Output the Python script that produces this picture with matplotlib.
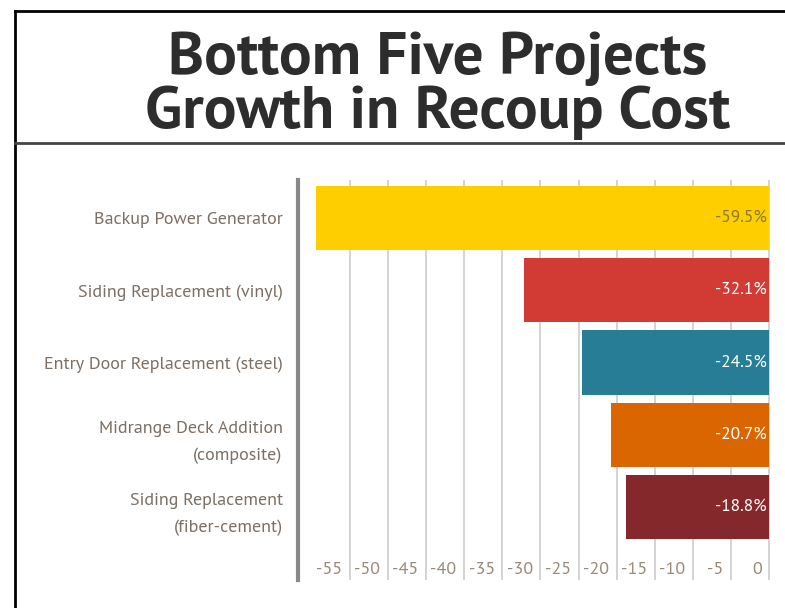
import matplotlib.pyplot as plt
from matplotlib.lines import Line2D

projects = ["Backup Power Generator", "Siding Replacement (vinyl)",
            "Entry Door Replacement (steel)", "Midrange Deck Addition\n(composite)",
            "Siding Replacement\n(fiber-cement)"]
growth = [-59.5, -32.1, -24.5, -20.7, -18.8]
bar_colors = ["#FFCE00", "#D13B33", "#277C96", "#D96600", "#84282C"]
label_colors = ["#8C7A2E", "white", "white", "white", "white"]
ticks = [-55, -50, -45, -40, -35, -30, -25, -20, -15, -10, -5, 0]

font = "PT Sans"

fig = plt.figure(figsize=(7.85, 6.08), dpi=100)
ax = fig.add_axes([298/785, 1-580/608, 472/785, 400/608])

y = list(range(len(projects)))
ax.barh(y, growth, height=0.89, color=bar_colors, zorder=2)
for yy, v, c in zip(y, growth, label_colors):
    ax.text(-0.35, yy, "%.1f%%" % v, ha="right", va="center", color=c,
            fontsize=12.5, family=font, zorder=3)

for t in ticks:
    ax.axvline(t, color="#cccccc", lw=1.2, zorder=1)
    ax.text(t - 1.0, 4.87, str(t), ha="right", va="center", color="#9a8a7a",
            fontsize=13, family=font)

ax.set_xlim(-61.8, 0.1)
ax.set_ylim(5.01, -0.526)
ax.set_yticks(y)
ax.set_yticklabels(projects, family=font, fontsize=13, color="#7d6f64",
                   linespacing=1.9)
ax.tick_params(axis="y", length=0, pad=11)
ax.set_xticks([])
for s in ["top", "right", "bottom"]:
    ax.spines[s].set_visible(False)
ax.spines["left"].set_color("#888888")
ax.spines["left"].set_linewidth(3)

fig.text(0.557, 1-86/608, "Bottom Five Projects\nGrowth in Recoup Cost", ha="center",
         va="center", fontsize=44, fontweight="bold", family=font,
         color="#2d2d2d", linespacing=1.0)

# frame lines
fig.add_artist(Line2D([15/785, 15/785], [0, 1-11/608], color="black", lw=2))
fig.add_artist(Line2D([15/785, 1], [1-11/608, 1-11/608], color="black", lw=2))
fig.add_artist(Line2D([15/785, 1], [1-143/608, 1-143/608], color="#444444", lw=2))

fig.savefig("out.png", dpi=100)
